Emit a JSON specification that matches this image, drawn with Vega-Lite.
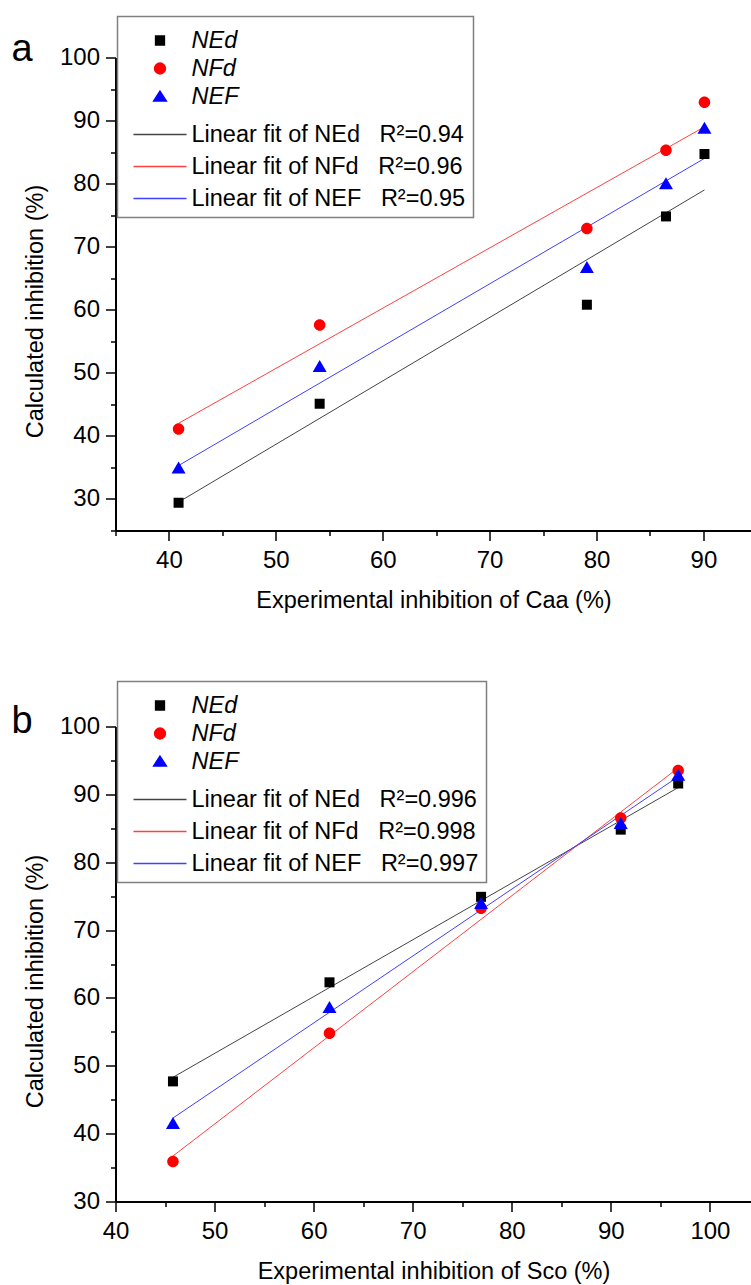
{
  "$schema": "https://vega.github.io/schema/vega-lite/v6.json",
  "background": "white",
  "padding": {"left": 10.5, "top": 15.5, "right": 0, "bottom": 0},
  "spacing": 68,
  "config": {
    "view": {"stroke": null},
    "font": "Liberation Sans",
    "axis": {
      "grid": false,
      "domainColor": "black",
      "domainWidth": 2,
      "tickColor": "black",
      "tickWidth": 1.5,
      "labelFont": "Liberation Sans",
      "labelFontSize": 24,
      "labelColor": "black",
      "labelFlush": false,
      "labelOverlap": false,
      "titleFont": "Liberation Sans",
      "titleFontSize": 23.5,
      "titleFontWeight": "normal",
      "titleColor": "black"
    }
  },
  "resolve": {"scale": {"color": "independent", "shape": "independent"}, "legend": {"color": "independent"}},
  "vconcat": [
    {
      "width": 636,
      "height": 473,
      "resolve": {"axis": {"y": "independent"}},
      "encoding": {
        "x": {"field": "x", "type": "quantitative",
          "scale": {"domain": [35, 94.5], "nice": false, "zero": false},
          "axis": {"title": "Experimental inhibition of Caa (%)", "values": [35, 40, 45, 50, 55, 60, 65, 70, 75, 80, 85, 90],
            "labelExpr": "datum.value % 10 === 0 ? datum.label : ''",
            "tickSize": {"condition": {"test": "datum.value % 10 === 0", "value": 10}, "value": 5},
            "labelBaseline": "alphabetic", "labelPadding": 27,
            "titleY": 77, "titleBaseline": "alphabetic"}},
        "color": {"field": "entry", "type": "nominal",
          "scale": {"domain": ["NEd", "NFd", "NEF", "Linear fit of NEd\u00a0\u00a0\u00a0R\u00b2=0.94", "Linear fit of NFd\u00a0\u00a0\u00a0R\u00b2=0.96", "Linear fit of NEF\u00a0\u00a0\u00a0R\u00b2=0.95"],
            "range": ["#000000", "#ff0000", "#0000ff", "#444444", "#ff4040", "#4040ff"]},
          "legend": {"title": null, "orient": "none", "legendX": 2, "legendY": -41,
            "fillColor": "white", "strokeColor": "#808080", "padding": 7.5,
            "symbolSize": 400, "symbolStrokeWidth": 1.3,
            "labelFont": "Liberation Sans", "labelFontSize": 23.5, "labelColor": "black", "labelLimit": 0,
            "rowPadding": 0,
            "encode": {
              "legend": {"update": {"strokeWidth": {"value": 1.5}}},
              "symbols": {"update": {
                "x": {"value": 35},
                "y": {"value": 16.5},
                "shape": {"signal": "['M-0.45,-0.45H0.45V0.45H-0.45Z','M-0.55,0A0.55,0.55,0,1,1,0.55,0A0.55,0.55,0,1,1,-0.55,0Z','M0,1.85M0,-0.55L0.65,0.45L-0.65,0.45Z','M0,1.25M-2.65,0H2.65','M0,1.25M-2.65,0H2.65','M-2.65,0H2.65'][datum.index]"},
                "fill": {"signal": "['#000000','#ff0000','#0000ff','transparent','transparent','transparent'][datum.index]"},
                "stroke": {"signal": "['transparent','transparent','transparent','#444444','#ff4040','#4040ff'][datum.index]"},
                "strokeWidth": {"value": 1.3},
                "size": {"value": 400},
                "opacity": {"value": 1}}},
              "labels": {"update": {
                "x": {"value": 66.5},
                "y": {"value": 16.5},
                "fontStyle": {"signal": "datum.index < 3 ? 'italic' : 'normal'"}}}
            }}}
      },
      "layer": [
        {
          "data": {"values": [
            {"entry": "Linear fit of NEd\u00a0\u00a0\u00a0R\u00b2=0.94", "x": 40.9, "y": 29.5},
            {"entry": "Linear fit of NEd\u00a0\u00a0\u00a0R\u00b2=0.94", "x": 90.1, "y": 79.0},
            {"entry": "Linear fit of NFd\u00a0\u00a0\u00a0R\u00b2=0.96", "x": 40.9, "y": 42.0},
            {"entry": "Linear fit of NFd\u00a0\u00a0\u00a0R\u00b2=0.96", "x": 90.1, "y": 89.0},
            {"entry": "Linear fit of NEF\u00a0\u00a0\u00a0R\u00b2=0.95", "x": 40.9, "y": 35.3},
            {"entry": "Linear fit of NEF\u00a0\u00a0\u00a0R\u00b2=0.95", "x": 90.1, "y": 84.0}
          ]},
          "mark": {"type": "line", "strokeWidth": 1},
          "encoding": {
            "y": {"field": "y", "type": "quantitative",
              "scale": {"domain": [25, 100], "nice": false, "zero": false},
              "axis": {"title": "Calculated inhibition (%)", "orient": "left", "values": [25, 30, 35, 40, 45, 50, 55, 60, 65, 70, 75, 80, 85, 90, 95, 100],
                "labelExpr": "datum.value % 10 === 0 ? datum.label : ''",
                "tickSize": {"condition": {"test": "datum.value % 10 === 0", "value": 10}, "value": 5},
                "labelPadding": 6,
                "titleX": -73, "titleY": 253.5, "titleAngle": 270, "titleAlign": "center", "titleBaseline": "alphabetic"}}
          }
        },
        {
          "data": {"values": [
            {"entry": "NEd", "x": 40.9, "y": 29.4},
            {"entry": "NEd", "x": 54.1, "y": 45.1},
            {"entry": "NEd", "x": 79.1, "y": 60.8},
            {"entry": "NEd", "x": 86.5, "y": 74.8},
            {"entry": "NEd", "x": 90.1, "y": 84.7},
            {"entry": "NFd", "x": 40.9, "y": 41.1},
            {"entry": "NFd", "x": 54.1, "y": 57.6},
            {"entry": "NFd", "x": 79.1, "y": 72.9},
            {"entry": "NFd", "x": 86.5, "y": 85.3},
            {"entry": "NFd", "x": 90.1, "y": 92.9},
            {"entry": "NEF", "x": 40.9, "y": 34.9},
            {"entry": "NEF", "x": 54.1, "y": 51.0},
            {"entry": "NEF", "x": 79.1, "y": 66.7},
            {"entry": "NEF", "x": 86.5, "y": 80.0},
            {"entry": "NEF", "x": 90.1, "y": 88.8}
          ]},
          "mark": {"type": "point", "filled": true, "opacity": 1, "size": 400, "strokeWidth": 0},
          "encoding": {
            "y": {"field": "y", "type": "quantitative",
              "scale": {"domain": [25, 100], "nice": false, "zero": false},
              "axis": {"title": "a", "orient": "left", "domain": false, "ticks": false, "labels": false, "grid": false,
                "titleAngle": 0, "titleX": -104.5, "titleY": 3, "titleAlign": "left", "titleBaseline": "alphabetic",
                "titleFontSize": 38, "titleFont": "Liberation Sans", "titleFontWeight": "normal", "titleColor": "black"}},
            "shape": {"field": "entry", "type": "nominal", "legend": null,
              "scale": {"domain": ["NEd", "NFd", "NEF"],
                "range": ["M-0.5,-0.5H0.5V0.5H-0.5Z", "M-0.575,0A0.575,0.575,0,1,1,0.575,0A0.575,0.575,0,1,1,-0.575,0Z", "M0,-0.65L0.7,0.55L-0.7,0.55Z"]}}
          }
        }
      ]
    },
    {
      "width": 636,
      "height": 475,
      "resolve": {"axis": {"y": "independent"}},
      "encoding": {
        "x": {"field": "x", "type": "quantitative",
          "scale": {"domain": [40, 104.2], "nice": false, "zero": false},
          "axis": {"title": "Experimental inhibition of Sco (%)", "values": [40, 45, 50, 55, 60, 65, 70, 75, 80, 85, 90, 95, 100],
            "labelExpr": "datum.value % 10 === 0 ? datum.label : ''",
            "tickSize": {"condition": {"test": "datum.value % 10 === 0", "value": 10}, "value": 5},
            "labelBaseline": "alphabetic", "labelPadding": 27,
            "titleY": 77, "titleBaseline": "alphabetic"}},
        "color": {"field": "entry", "type": "nominal",
          "scale": {"domain": ["NEd", "NFd", "NEF", "Linear fit of NEd\u00a0\u00a0\u00a0R\u00b2=0.996", "Linear fit of NFd\u00a0\u00a0\u00a0R\u00b2=0.998", "Linear fit of NEF\u00a0\u00a0\u00a0R\u00b2=0.997"],
            "range": ["#000000", "#ff0000", "#0000ff", "#444444", "#ff4040", "#4040ff"]},
          "legend": {"title": null, "orient": "none", "legendX": 2, "legendY": -45,
            "fillColor": "white", "strokeColor": "#808080", "padding": 7.5,
            "symbolSize": 400, "symbolStrokeWidth": 1.3,
            "labelFont": "Liberation Sans", "labelFontSize": 23.5, "labelColor": "black", "labelLimit": 0,
            "rowPadding": 0,
            "encode": {
              "legend": {"update": {"strokeWidth": {"value": 1.5}}},
              "symbols": {"update": {
                "x": {"value": 35},
                "y": {"value": 16.5},
                "shape": {"signal": "['M-0.45,-0.45H0.45V0.45H-0.45Z','M-0.55,0A0.55,0.55,0,1,1,0.55,0A0.55,0.55,0,1,1,-0.55,0Z','M0,1.85M0,-0.55L0.65,0.45L-0.65,0.45Z','M0,1.25M-2.65,0H2.65','M0,1.25M-2.65,0H2.65','M-2.65,0H2.65'][datum.index]"},
                "fill": {"signal": "['#000000','#ff0000','#0000ff','transparent','transparent','transparent'][datum.index]"},
                "stroke": {"signal": "['transparent','transparent','transparent','#444444','#ff4040','#4040ff'][datum.index]"},
                "strokeWidth": {"value": 1.3},
                "size": {"value": 400},
                "opacity": {"value": 1}}},
              "labels": {"update": {
                "x": {"value": 66.5},
                "y": {"value": 16.5},
                "fontStyle": {"signal": "datum.index < 3 ? 'italic' : 'normal'"}}}
            }}}
      },
      "layer": [
        {
          "data": {"values": [
            {"entry": "Linear fit of NEd\u00a0\u00a0\u00a0R\u00b2=0.996", "x": 45.8, "y": 48.3},
            {"entry": "Linear fit of NEd\u00a0\u00a0\u00a0R\u00b2=0.996", "x": 96.8, "y": 91.0},
            {"entry": "Linear fit of NFd\u00a0\u00a0\u00a0R\u00b2=0.998", "x": 45.8, "y": 36.7},
            {"entry": "Linear fit of NFd\u00a0\u00a0\u00a0R\u00b2=0.998", "x": 96.8, "y": 93.9},
            {"entry": "Linear fit of NEF\u00a0\u00a0\u00a0R\u00b2=0.997", "x": 45.8, "y": 42.3},
            {"entry": "Linear fit of NEF\u00a0\u00a0\u00a0R\u00b2=0.997", "x": 96.8, "y": 92.6}
          ]},
          "mark": {"type": "line", "strokeWidth": 1},
          "encoding": {
            "y": {"field": "y", "type": "quantitative",
              "scale": {"domain": [30, 100], "nice": false, "zero": false},
              "axis": {"title": "Calculated inhibition (%)", "orient": "left", "values": [30, 35, 40, 45, 50, 55, 60, 65, 70, 75, 80, 85, 90, 95, 100],
                "labelExpr": "datum.value % 10 === 0 ? datum.label : ''",
                "tickSize": {"condition": {"test": "datum.value % 10 === 0", "value": 10}, "value": 5},
                "labelPadding": 6,
                "titleX": -73, "titleY": 254.5, "titleAngle": 270, "titleAlign": "center", "titleBaseline": "alphabetic"}}
          }
        },
        {
          "data": {"values": [
            {"entry": "NEd", "x": 45.8, "y": 47.7},
            {"entry": "NEd", "x": 61.6, "y": 62.3},
            {"entry": "NEd", "x": 76.9, "y": 74.9},
            {"entry": "NEd", "x": 91.0, "y": 84.8},
            {"entry": "NEd", "x": 96.8, "y": 91.6},
            {"entry": "NFd", "x": 45.8, "y": 35.9},
            {"entry": "NFd", "x": 61.6, "y": 54.8},
            {"entry": "NFd", "x": 76.9, "y": 73.2},
            {"entry": "NFd", "x": 91.0, "y": 86.5},
            {"entry": "NFd", "x": 96.8, "y": 93.5},
            {"entry": "NEF", "x": 45.8, "y": 41.5},
            {"entry": "NEF", "x": 61.6, "y": 58.6},
            {"entry": "NEF", "x": 76.9, "y": 73.9},
            {"entry": "NEF", "x": 91.0, "y": 85.7},
            {"entry": "NEF", "x": 96.8, "y": 92.8}
          ]},
          "mark": {"type": "point", "filled": true, "opacity": 1, "size": 400, "strokeWidth": 0},
          "encoding": {
            "y": {"field": "y", "type": "quantitative",
              "scale": {"domain": [30, 100], "nice": false, "zero": false},
              "axis": {"title": "b", "orient": "left", "domain": false, "ticks": false, "labels": false, "grid": false,
                "titleAngle": 0, "titleX": -104.5, "titleY": 6, "titleAlign": "left", "titleBaseline": "alphabetic",
                "titleFontSize": 38, "titleFont": "Liberation Sans", "titleFontWeight": "normal", "titleColor": "black"}},
            "shape": {"field": "entry", "type": "nominal", "legend": null,
              "scale": {"domain": ["NEd", "NFd", "NEF"],
                "range": ["M-0.5,-0.5H0.5V0.5H-0.5Z", "M-0.575,0A0.575,0.575,0,1,1,0.575,0A0.575,0.575,0,1,1,-0.575,0Z", "M0,-0.65L0.7,0.55L-0.7,0.55Z"]}}
          }
        }
      ]
    }
  ]
}
